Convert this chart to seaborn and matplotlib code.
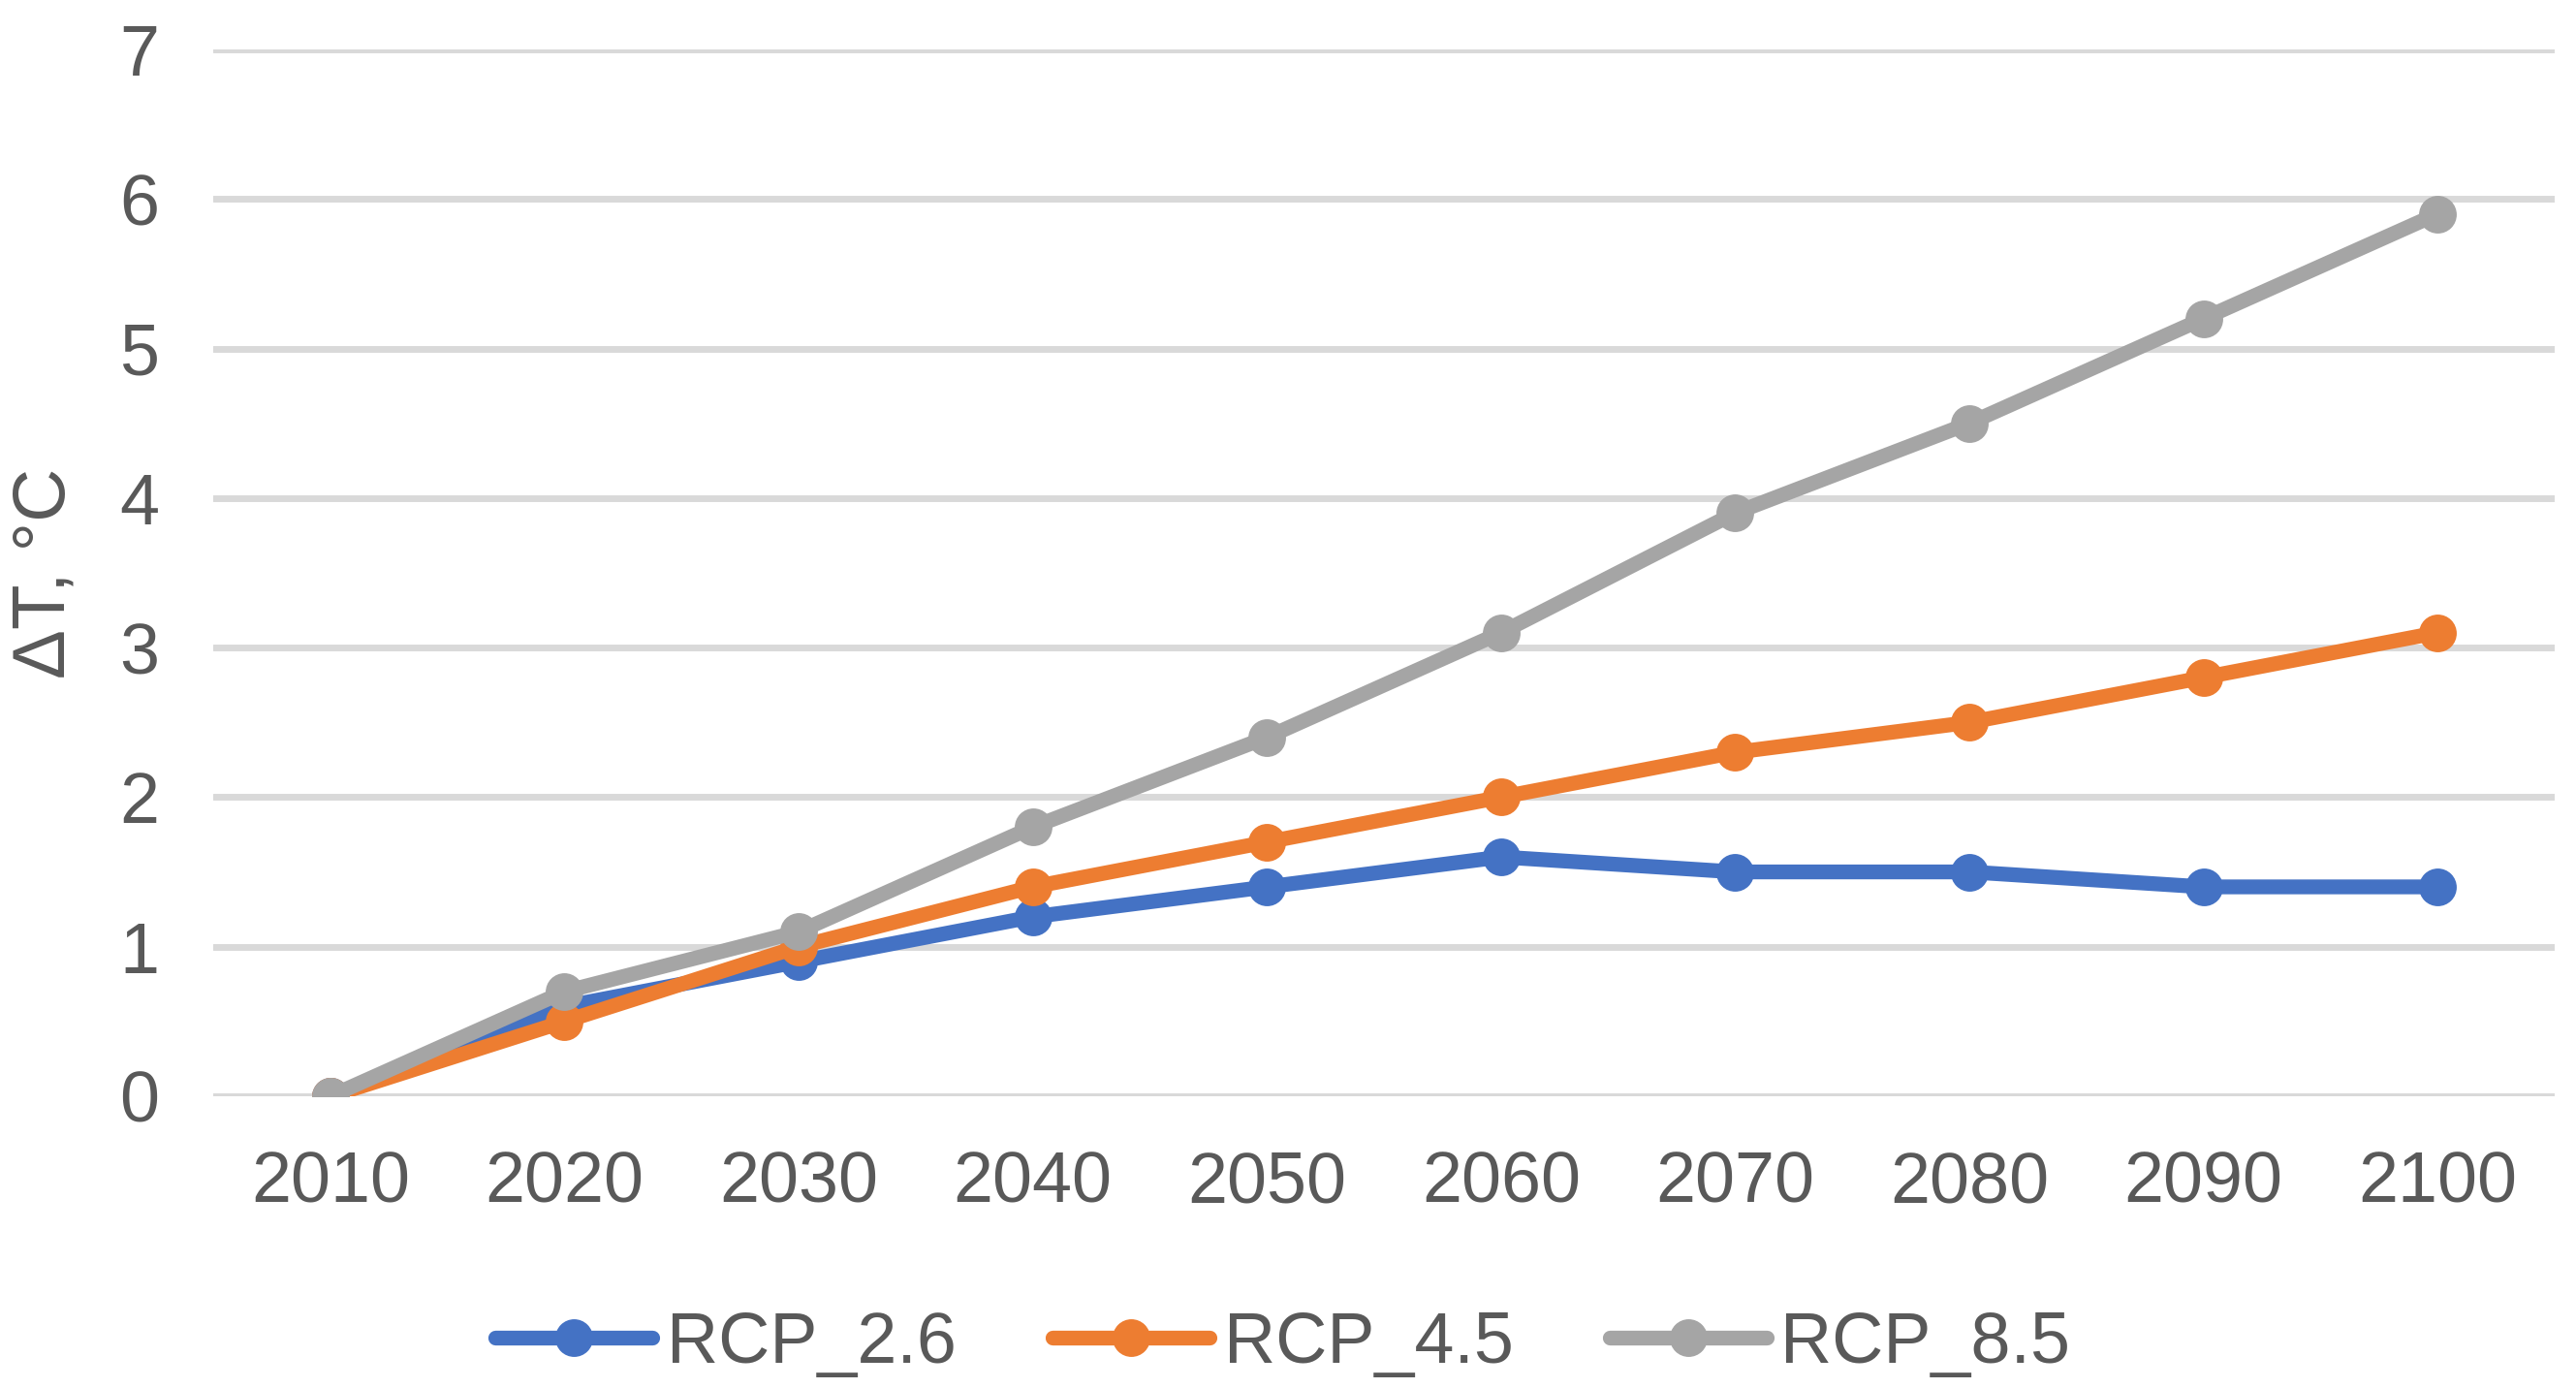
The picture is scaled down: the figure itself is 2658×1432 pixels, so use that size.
import pandas as pd
import seaborn as sns
import matplotlib.pyplot as plt


years = [2010, 2020, 2030, 2040, 2050, 2060, 2070, 2080, 2090, 2100]
rcp26 = [0, 0.6, 0.9, 1.2, 1.4, 1.6, 1.5, 1.5, 1.4, 1.4]
rcp45 = [0, 0.5, 1.0, 1.4, 1.7, 2.0, 2.3, 2.5, 2.8, 3.1]
rcp85 = [0, 0.7, 1.1, 1.8, 2.4, 3.1, 3.9, 4.5, 5.2, 5.9]

scenarios = ['RCP_2.6', 'RCP_4.5', 'RCP_8.5']
colors = ['#4472C4', '#ED7D31', '#A5A5A5']

df = pd.DataFrame({
    'year': years * 3,
    'dT': rcp26 + rcp45 + rcp85,
    'scenario': [s for s in scenarios for _ in years],
})

sns.set_style('white')
plt.rcParams['font.family'] = ['Liberation Sans', 'DejaVu Sans']
text_color = '#595959'
fs = 53

fig = plt.figure(figsize=(26.58, 14.32), dpi=100)
ax = fig.add_axes([0.0828, 0.2102, 0.9089, 0.7542])

sns.lineplot(
    data=df, x='year', y='dT', hue='scenario',
    palette=colors, marker='o', markersize=28, markeredgewidth=0,
    linewidth=11, ax=ax, legend=False
)

ax.set_xlim(2005, 2105)
ax.set_ylim(0, 7)
ax.set_xticks(years)
ax.set_yticks(range(0, 8))
ax.grid(axis='y', color='#D9D9D9', linewidth=5)
ax.set_axisbelow(True)
for sp in ax.spines.values():
    sp.set_visible(False)

ax.tick_params(axis='both', length=0, labelsize=fs, colors=text_color)
ax.tick_params(axis='y', pad=40)
ax.tick_params(axis='x', pad=40)

ax.set_xlabel('')
ax.set_ylabel('ΔT, °C', fontsize=55, color=text_color)
ax.yaxis.set_label_coords(-0.057, 0.5)

handles = [plt.Line2D([], [], color=c, linewidth=11, marker='o', markersize=28,
                      markeredgewidth=0) for c in colors]
fig.legend(handles, scenarios, loc='center', bbox_to_anchor=(0.498, 0.032),
           ncol=3, frameon=False, fontsize=fs, labelcolor=text_color,
           handlelength=2.2, columnspacing=1.35, handletextpad=0.2)

fig.savefig('out.png', dpi=100)
